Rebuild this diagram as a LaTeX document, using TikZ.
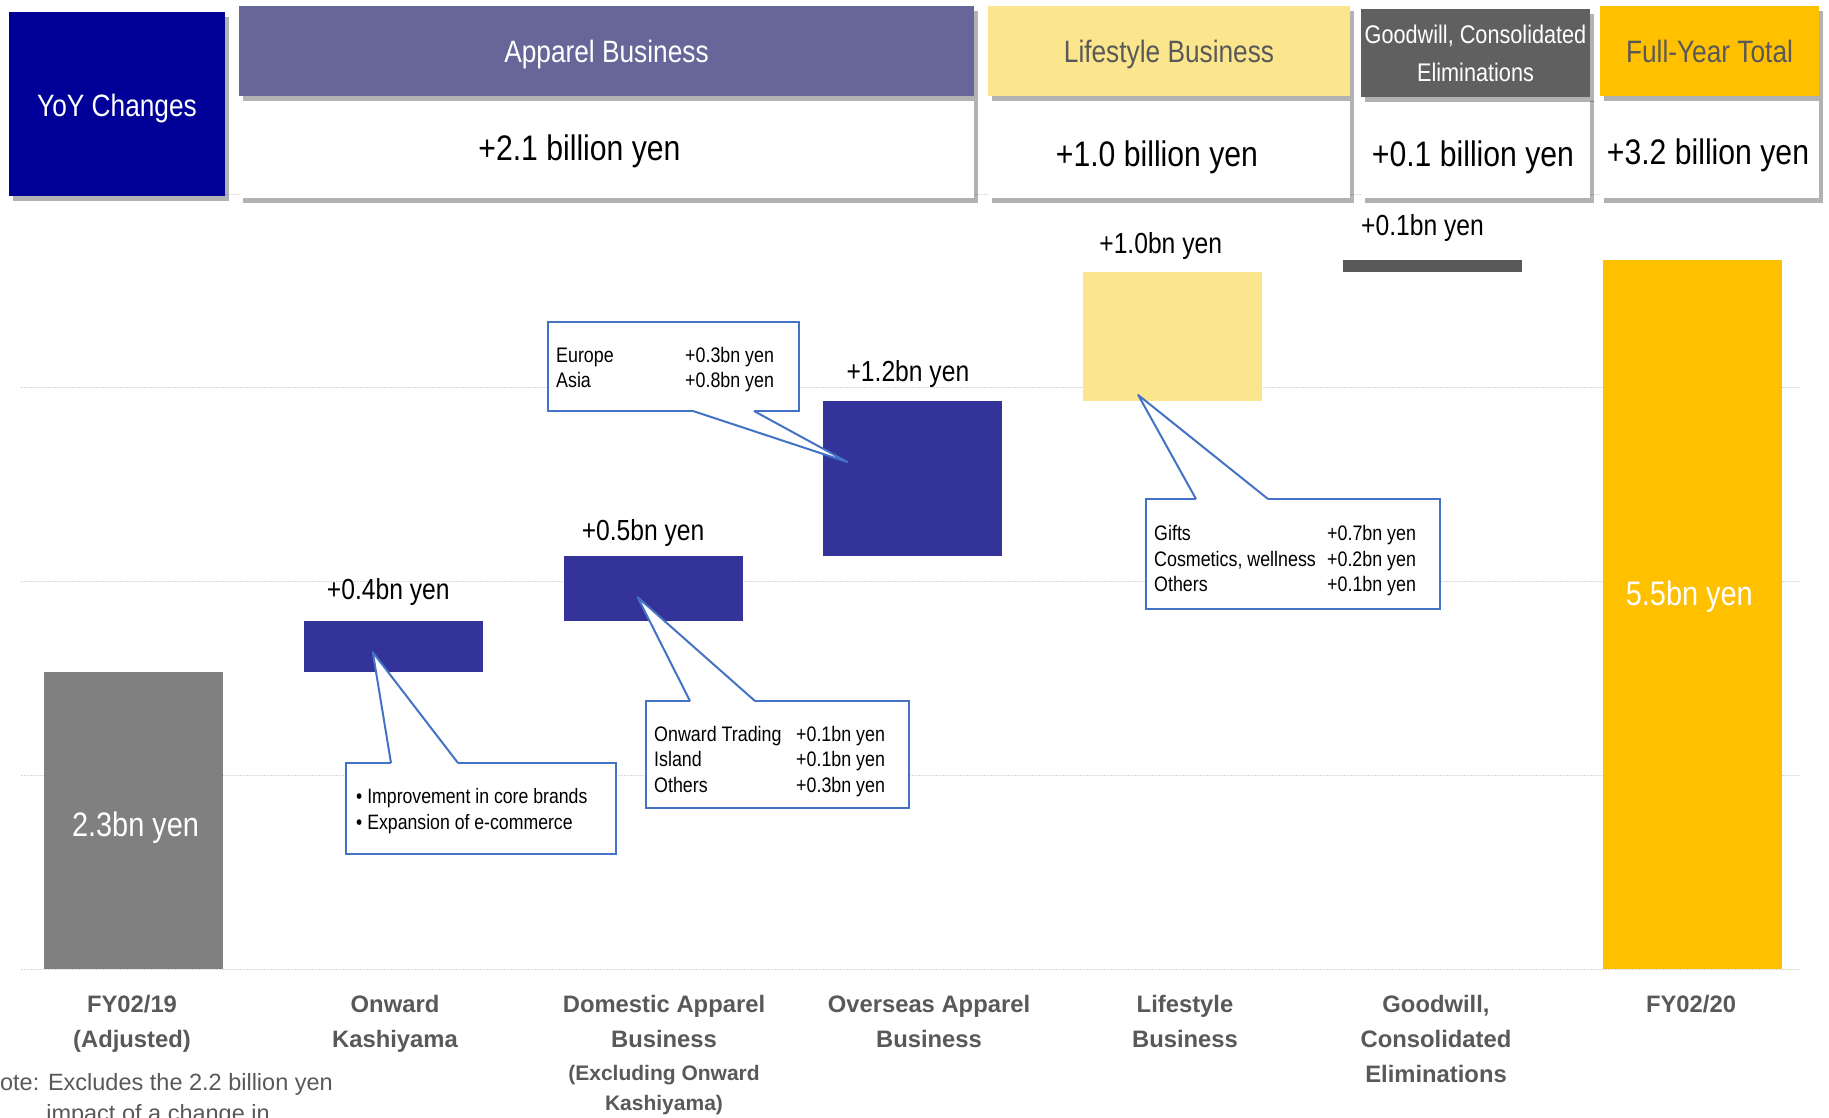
\documentclass[tikz,border=0pt]{standalone}
\usepackage{fontspec}
\setmainfont{Liberation Sans}[FakeStretch=0.85]
\newfontfamily\axisfont{Liberation Sans}
\usetikzlibrary{positioning, calc, shadows}

\definecolor{yoyblue}{RGB}{0,0,153}
\definecolor{appviolet}{RGB}{102,102,153}
\definecolor{lifeyellow}{RGB}{251,229,141}
\definecolor{gwgray}{RGB}{96,96,96}
\definecolor{gwbar}{RGB}{89,89,89}
\definecolor{totalgold}{RGB}{255,192,0}
\definecolor{barblue}{RGB}{51,51,153}
\definecolor{basegray}{RGB}{128,128,128}
\definecolor{callblue}{RGB}{68,114,196}
\definecolor{labelgray}{RGB}{89,89,89}
\definecolor{gridgray}{RGB}{217,217,217}

% white wedge from a callout box to its bar
\newcommand{\calloutptr}[3]{%
  \fill[white] (#1) -- (#2) -- (#3) -- cycle;
  \draw[white, line width=3pt] (#1) -- (#3);
  \draw[pointer] (#1) -- (#2) -- (#3);}

\begin{document}
\begin{tikzpicture}[x=1pt, y=-1pt,
    hdr/.style={anchor=north west, inner sep=0pt, outer sep=0pt, align=center, text=white,
        font=\fontsize{30.9}{35}\selectfont,
        drop shadow={shadow xshift=4pt, shadow yshift=-5pt, opacity=0.3, fill=black}},
    oneline/.style={text height=29.5pt, text depth=6.5pt},
    valbox/.style={anchor=north west, inner sep=0pt, outer sep=0pt, fill=white,
        drop shadow={shadow xshift=4pt, shadow yshift=-5pt, opacity=0.3, fill=black}},
    valtext/.style={font=\fontsize{35.5}{40}\selectfont},
    bar/.style={anchor=south west, inner sep=0pt, outer sep=0pt, minimum width=179pt},
    barlabel/.style={font=\fontsize{29}{34}\selectfont},
    inlabel/.style={text=white, font=\fontsize{34}{40}\selectfont},
    callout/.style={anchor=north west, draw=callblue, line width=2pt, fill=white, outer sep=0pt},
    calltext/.style={anchor=west, inner sep=0pt, align=left, font=\fontsize{21}{25.5}\selectfont},
    pointer/.style={draw=callblue, line width=2pt, line join=round},
    catlabel/.style={anchor=north, inner sep=0pt, align=center, text=labelgray,
        font=\axisfont\bfseries\fontsize{23.8}{35}\selectfont},
    gridline/.style={draw=gridgray, line width=1pt, dash pattern=on 1.5pt off 1.5pt}]

\useasboundingbox (0,0) rectangle (1829,1117);
\clip (0,0) rectangle (1829,1117);
\fill[white] (0,0) rectangle (1829,1117);

\foreach \gy in {194, 387.75, 581.5, 775.25, 969}
    \draw[gridline] (21,\gy) -- (1800,\gy);

% header row
\node[hdr, oneline, text height=30.5pt, fill=yoyblue, minimum width=216pt, minimum height=184pt] (yoy) at (9,12) {YoY Changes};

\node[valbox, minimum width=735pt, minimum height=101.5pt] (app_val) at (239,96) {};
\node[hdr, oneline, fill=appviolet, minimum width=735pt, minimum height=90pt] (app_hdr) at (239,6) {Apparel Business};
\node[valtext] (app_num) at ($(app_val.center)+(-27,5)$) {+2.1 billion yen};

\node[valbox, minimum width=362pt, minimum height=101.5pt] (life_val) at (988,96) {};
\node[hdr, oneline, fill=lifeyellow, text=labelgray, minimum width=362pt, minimum height=90pt] (life_hdr) at (988,6) {Lifestyle Business};
\node[valtext] (life_num) at ($(life_val.center)+(-12,11)$) {+1.0 billion yen};

\node[valbox, minimum width=229pt, minimum height=101.5pt] (gw_val) at (1361,96) {};
\node[hdr, fill=gwgray, minimum width=229pt, minimum height=88pt,
    font=\fontsize{25.5}{38}\selectfont] (gw_hdr) at (1361,9) {Goodwill, Consolidated\\Eliminations};
\node[valtext] (gw_num) at ($(gw_val.center)+(-2.5,11)$) {+0.1 billion yen};

\node[valbox, minimum width=219pt, minimum height=101.5pt] (tot_val) at (1600,96) {};
\node[hdr, oneline, fill=totalgold, text=labelgray, minimum width=219pt, minimum height=90pt] (tot_hdr) at (1600,6) {Full-Year Total};
\node[valtext] (tot_num) at ($(tot_val.center)+(-1.5,9)$) {+3.2 billion yen};

% bars
\node[bar, fill=basegray, minimum height=296.7pt] (fy19) at (44,969) {};
\node[bar, fill=barblue, minimum height=51.6pt] (onward) at ($(fy19.north east)+(80.8,0)$) {};
\node[bar, fill=barblue, minimum height=64.5pt] (domestic) at ($(onward.north east)+(80.8,0)$) {};
\node[bar, fill=barblue, minimum height=154.8pt] (overseas) at ($(domestic.north east)+(80.8,0)$) {};
\node[bar, fill=lifeyellow, minimum height=129pt] (lifestyle) at ($(overseas.north east)+(80.8,0)$) {};
\node[bar, fill=gwbar, minimum height=12.9pt] (goodwill) at ($(lifestyle.north east)+(80.8,0)$) {};
\node[bar, fill=totalgold, minimum height=709.5pt] (fy20) at ($(goodwill.east |- fy19.south)+(80.8,0)$) {};

\node[inlabel] (fy19_v) at ($(fy19.center)+(2,7)$) {2.3bn yen};
\node[barlabel] (onward_v) at ($(onward.north)+(-5,-29)$) {+0.4bn yen};
\node[barlabel] (domestic_v) at ($(domestic.north)+(-10,-23.5)$) {+0.5bn yen};
\node[barlabel] (overseas_v) at ($(overseas.north)+(-5,-27)$) {+1.2bn yen};
\node[barlabel] (lifestyle_v) at ($(lifestyle.north)+(-12,-26.5)$) {+1.0bn yen};
\node[barlabel] (goodwill_v) at ($(goodwill.north)+(-10,-31.5)$) {+0.1bn yen};
\node[inlabel] (fy20_v) at ($(fy20.center)+(-3,-17.5)$) {5.5bn yen};

% callouts
\node[callout, minimum width=270pt, minimum height=91pt] (onward_c) at (346,763) {};
\node[calltext, font=\fontsize{20.8}{25.5}\selectfont] (onward_t) at ($(onward_c.west)+(10,2.5)$)
    {• Improvement in core brands\\• Expansion of e-commerce};
\coordinate (onward_a) at ($(onward_c.north west)+(45,0)$);
\coordinate (onward_b) at ($(onward_c.north west)+(112,0)$);
\coordinate (onward_tip) at ($(onward.north west)+(69,31.5)$);
\calloutptr{onward_a}{onward_tip}{onward_b}

\node[callout, minimum width=263pt, minimum height=107pt] (domestic_c) at (646,701) {};
\node[calltext] (domestic_t) at ($(domestic_c.west)+(8,7)$)
    {\begin{tabular}{@{}p{142pt}@{}l@{}}
     Onward Trading & +0.1bn yen\\
     Island & +0.1bn yen\\
     Others & +0.3bn yen
     \end{tabular}};
\coordinate (domestic_a) at ($(domestic_c.north west)+(44,0)$);
\coordinate (domestic_b) at ($(domestic_c.north west)+(109,0)$);
\coordinate (domestic_tip) at ($(domestic.north west)+(74,41)$);
\calloutptr{domestic_a}{domestic_tip}{domestic_b}

\node[callout, minimum width=251pt, minimum height=89pt] (overseas_c) at (548,322) {};
\node[calltext] (overseas_t) at ($(overseas_c.west)+(8,3.5)$)
    {\begin{tabular}{@{}p{129pt}@{}l@{}}
     Europe & +0.3bn yen\\
     Asia & +0.8bn yen
     \end{tabular}};
\coordinate (overseas_a) at ($(overseas_c.south west)+(145,0)$);
\coordinate (overseas_b) at ($(overseas_c.south west)+(206,0)$);
\coordinate (overseas_tip) at ($(overseas.north west)+(24,60.6)$);
\calloutptr{overseas_a}{overseas_tip}{overseas_b}

\node[callout, minimum width=294pt, minimum height=110pt] (lifestyle_c) at (1146,499) {};
\node[calltext] (lifestyle_t) at ($(lifestyle_c.west)+(8,7)$)
    {\begin{tabular}{@{}p{173pt}@{}l@{}}
     Gifts & +0.7bn yen\\
     Cosmetics, wellness & +0.2bn yen\\
     Others & +0.1bn yen
     \end{tabular}};
\coordinate (lifestyle_a) at ($(lifestyle_c.north west)+(50,0)$);
\coordinate (lifestyle_b) at ($(lifestyle_c.north west)+(122,0)$);
\coordinate (lifestyle_tip) at ($(lifestyle.north west)+(55,122.6)$);
\calloutptr{lifestyle_a}{lifestyle_tip}{lifestyle_b}

% category labels
\node[catlabel] (fy19_lbl) at (132,987.5) {\strut FY02/19\\(Adjusted)};
\node[catlabel] (onward_lbl) at (395,987.5) {\strut Onward\\Kashiyama};
\node[catlabel] (domestic_lbl) at (664,987.5) {\strut Domestic Apparel\\Business};
\node[catlabel, font=\axisfont\bfseries\fontsize{21}{30}\selectfont] (domestic_sub) at (664,1059)
    {\strut (Excluding Onward\\Kashiyama)};
\node[catlabel] (overseas_lbl) at (929,987.5) {\strut Overseas Apparel\\Business};
\node[catlabel] (lifestyle_lbl) at (1185,987.5) {\strut Lifestyle\\Business};
\node[catlabel] (goodwill_lbl) at (1436,987.5) {\strut Goodwill,\\Consolidated\\Eliminations};
\node[catlabel] (fy20_lbl) at (1691,987.5) {\strut FY02/20};

\node[catlabel, font=\axisfont\fontsize{23.5}{31}\selectfont] (note) at (158,1068.3)
    {\strut Note: Excludes the 2.2 billion yen\\impact of a change in};

\end{tikzpicture}
\end{document}
